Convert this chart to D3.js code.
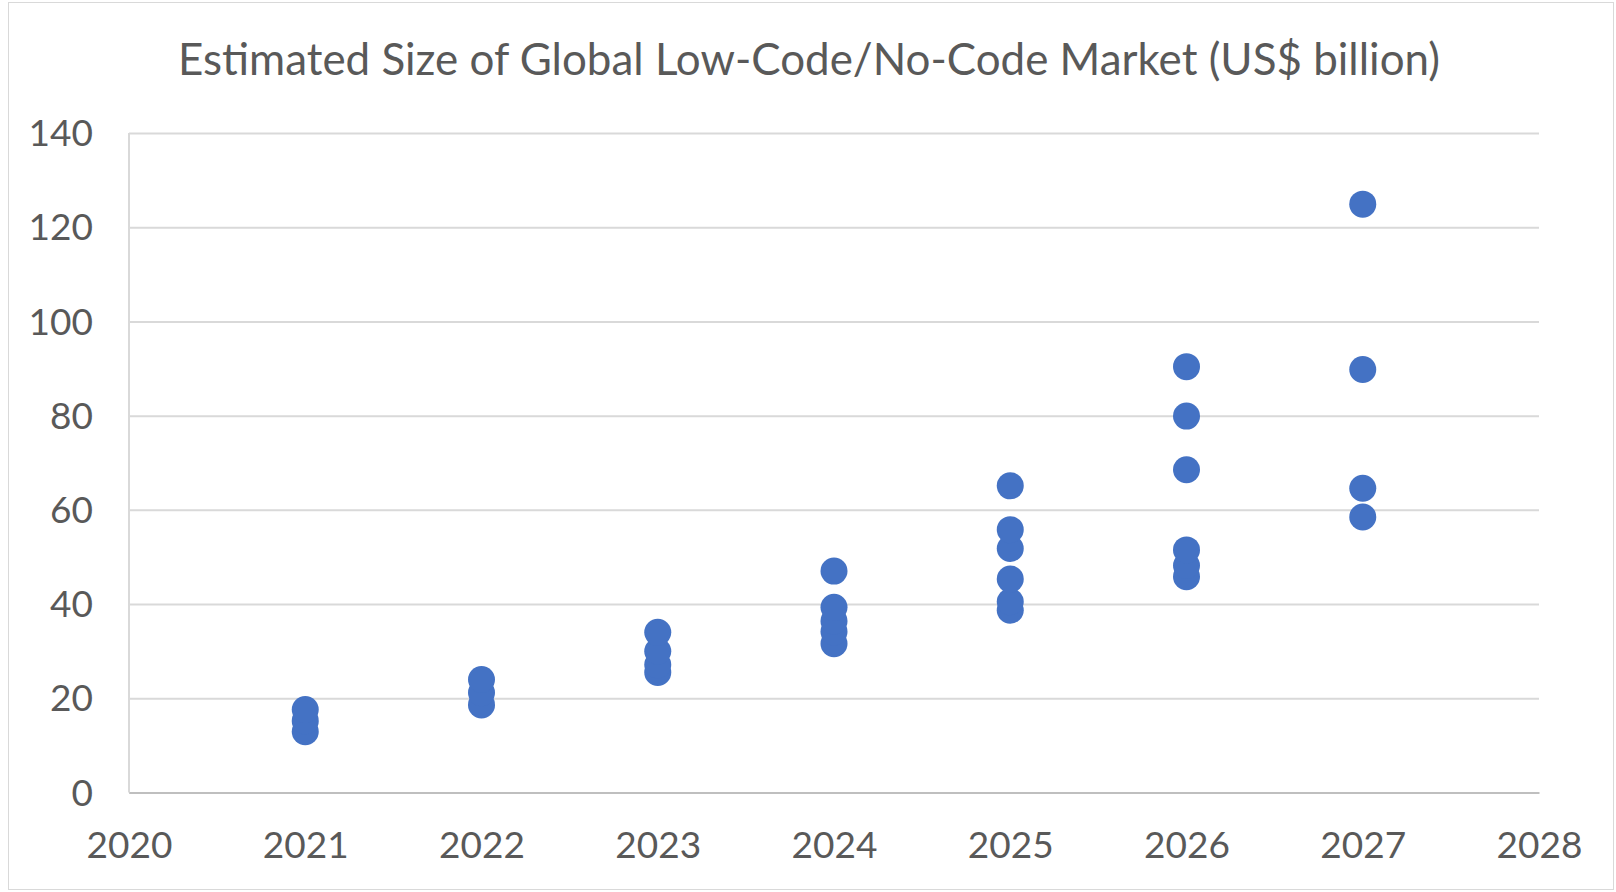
<!DOCTYPE html>
<meta charset="utf-8">
<html lang="en">
<head>
	<title>Low-Code/No-Code Market</title>
	<script src="https://d3js.org/d3.v7.min.js" charset="utf-8"></script>
	<style>
		body { margin: 0; background: #fff; }
		text { font-family: Lato, "Open Sans", sans-serif; fill: #595959; }
	</style>
</head>
<body>
	<script>
// data, one list per year
var years = [2021, 2022, 2023, 2024, 2025, 2026, 2027];
var est2021 = [12.9, 15.2, 17.6];
var est2022 = [18.6, 21.2, 24.0];
var est2023 = [25.5, 27.1, 30.0, 34.0];
var est2024 = [31.6, 34.1, 36.4, 39.3, 47.0];
var est2025 = [38.7, 40.5, 45.3, 51.8, 55.8, 65.1];
var est2026 = [45.8, 48.2, 51.5, 68.5, 79.9, 90.4];
var est2027 = [58.5, 64.6, 89.8, 124.9];
var xTicks = [2020, 2021, 2022, 2023, 2024, 2025, 2026, 2027, 2028];
var yTicks = [0, 20, 40, 60, 80, 100, 120, 140];
var title = "Estimated Size of Global Low-Code/No-Code Market (US$ billion)";

var width = 1616,
    height = 892;

var points = [];
[est2021, est2022, est2023, est2024, est2025, est2026, est2027].forEach(function(list, i) {
  list.forEach(function(v) { points.push({ year: years[i], value: v }); });
});

var x = d3.scaleLinear().domain([2020, 2028]).range([129, 1539]);
var y = d3.scaleLinear().domain([0, 140]).range([792.5, 133]);

var svg = d3.select("body").append("svg")
    .attr("width", width)
    .attr("height", height);

// chart border
svg.append("rect")
    .attr("x", 8.5).attr("y", 2.5)
    .attr("width", 1605).attr("height", 887)
    .style("fill", "#fff")
    .style("stroke", "#d9d9d9");

svg.append("text")
    .attr("x", 809).attr("y", 75)
    .attr("text-anchor", "middle")
    .attr("textLength", 1262)
    .attr("lengthAdjust", "spacingAndGlyphs")
    .style("font-size", "45px")
    .text(title);

// horizontal gridlines + y labels
var yAxis = svg.append("g")
    .attr("transform", "translate(" + x(2020) + ",0)")
    .call(d3.axisLeft(y).tickValues(yTicks).tickSize(-(x(2028) - x(2020))).tickPadding(36));
yAxis.select(".domain").remove();
yAxis.selectAll("line").style("stroke", "#d9d9d9").style("stroke-width", 2);
yAxis.selectAll("text").style("font-size", "37px").attr("dy", "0.34em");

// vertical axis line
svg.append("line")
    .attr("x1", x(2020)).attr("x2", x(2020))
    .attr("y1", y(140)).attr("y2", y(0))
    .style("stroke", "#d9d9d9").style("stroke-width", 2);

var xAxis = svg.append("g")
    .attr("transform", "translate(0," + y(0) + ")")
    .call(d3.axisBottom(x).tickValues(xTicks).tickFormat(d3.format("d")).tickSize(0).tickPadding(39));
xAxis.select(".domain").style("stroke", "#bfbfbf").style("stroke-width", 2);
xAxis.selectAll("text").style("font-size", "37px");

svg.append("g")
  .selectAll("circle")
    .data(points)
  .enter().append("circle")
    .attr("cx", function(d) { return x(d.year); })
    .attr("cy", function(d) { return y(d.value); })
    .attr("r", 13.5)
    .style("fill", "#4472c4");
	</script>
</body>
</html>
